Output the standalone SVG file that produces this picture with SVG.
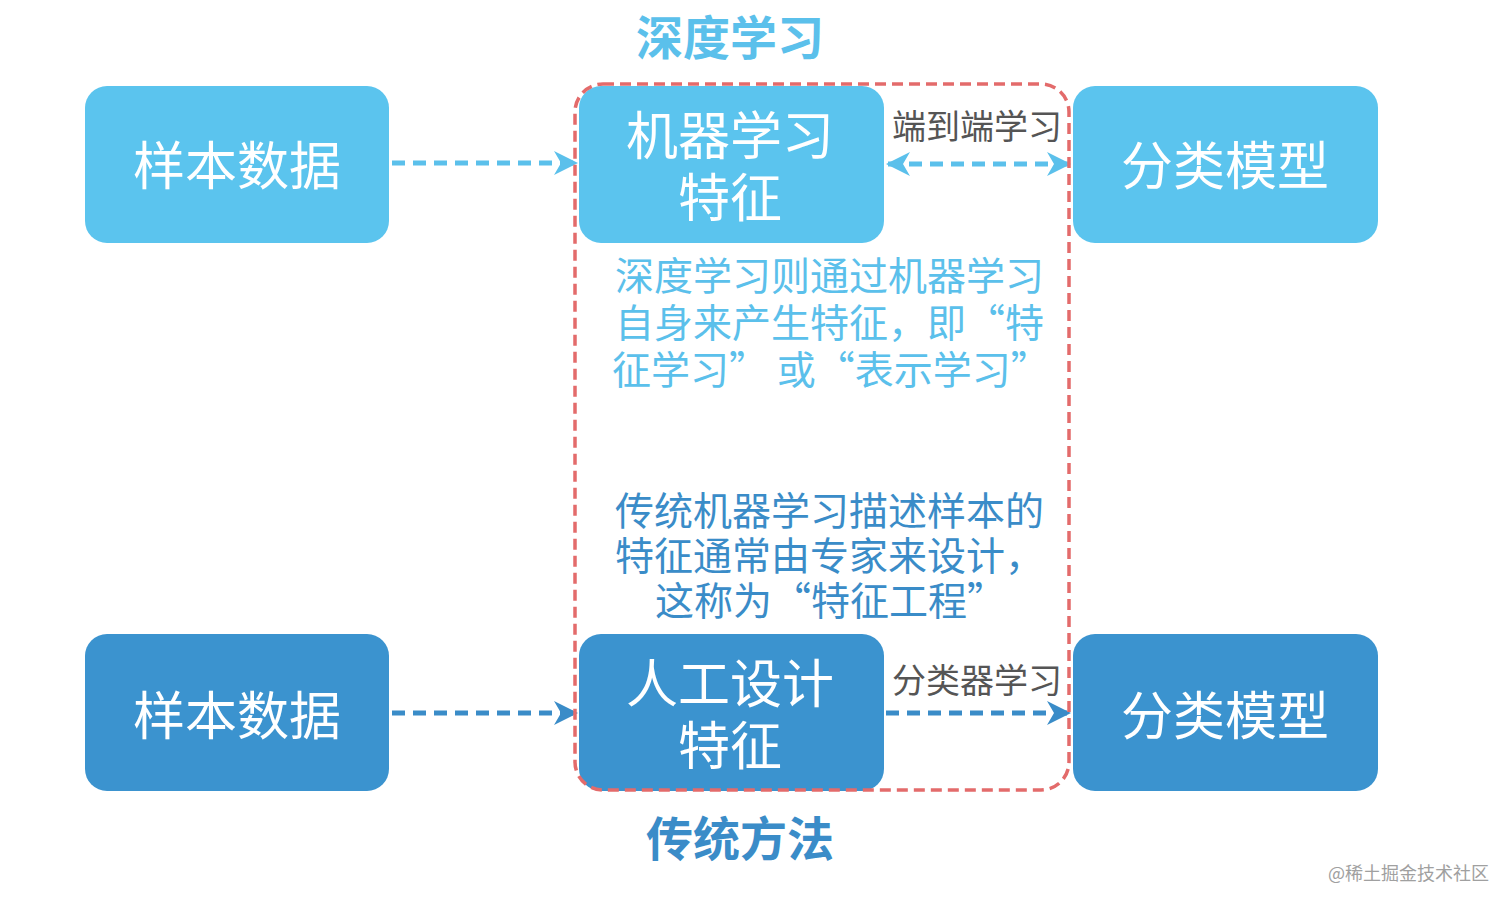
<svg xmlns="http://www.w3.org/2000/svg" width="1512" height="908" viewBox="0 0 1512 908">
<style>
.t{font-family:"Noto Sans CJK SC","Noto Sans",sans-serif;}
.box-l{fill:#5BC4EE;}
.box-d{fill:#3B93CF;}
.wt{fill:#ffffff;font-size:52px;text-anchor:middle;}
.lbl{fill:#555555;font-size:34px;text-anchor:middle;}
.c-l{stroke:#5BC0EB;stroke-width:5;stroke-dasharray:13 8;fill:none;}
.c-d{stroke:#3A8CC8;stroke-width:5;stroke-dasharray:13 8;fill:none;}
</style>
<defs>
<marker id="al" viewBox="0 0 24 24" refX="22" refY="12" markerWidth="24" markerHeight="24" markerUnits="userSpaceOnUse" orient="auto-start-reverse">
<path d="M0,0 L24,12 L0,24 L7,12 Z" fill="#5BC0EB"/>
</marker>
<marker id="ad" viewBox="0 0 24 24" refX="22" refY="12" markerWidth="24" markerHeight="24" markerUnits="userSpaceOnUse" orient="auto-start-reverse">
<path d="M0,0 L24,12 L0,24 L7,12 Z" fill="#3A8CC8"/>
</marker>
</defs>
<rect width="1512" height="908" fill="#ffffff"/>

<text class="t" x="730" y="55" font-size="47" font-weight="bold" fill="#5BC0EB" text-anchor="middle">深度学习</text>
<text class="t" x="740" y="856" font-size="47" font-weight="bold" fill="#3A8CC8" text-anchor="middle">传统方法</text>

<g id="n-sample-top">
<rect class="box-l" x="85" y="86" width="304" height="157" rx="22"/>
<text class="t wt" x="237" y="185">样本数据</text>
</g>
<g id="n-ml-feature">
<rect class="box-l" x="579" y="86" width="305" height="157" rx="22"/>
<text class="t wt" x="730" y="155">机器学习</text>
<text class="t wt" x="730" y="217">特征</text>
</g>
<g id="n-class-top">
<rect class="box-l" x="1073" y="86" width="305" height="157" rx="22"/>
<text class="t wt" x="1225" y="185">分类模型</text>
</g>
<g id="n-sample-bot">
<rect class="box-d" x="85" y="634" width="304" height="157" rx="22"/>
<text class="t wt" x="237" y="735">样本数据</text>
</g>
<g id="n-manual-feature">
<rect class="box-d" x="579" y="634" width="305" height="157" rx="22"/>
<text class="t wt" x="730" y="703">人工设计</text>
<text class="t wt" x="730" y="765">特征</text>
</g>
<g id="n-class-bot">
<rect class="box-d" x="1073" y="634" width="305" height="157" rx="22"/>
<text class="t wt" x="1225" y="735">分类模型</text>
</g>

<g id="connectors">
<line class="c-l" x1="392" y1="163" x2="576" y2="163" marker-end="url(#al)"/>
<line class="c-l" x1="888" y1="164" x2="1069" y2="164" marker-start="url(#al)" marker-end="url(#al)"/>
<line class="c-d" x1="392" y1="713" x2="576" y2="713" marker-end="url(#ad)"/>
<line class="c-d" x1="886" y1="713" x2="1069" y2="713" marker-end="url(#ad)"/>
<text class="t lbl" x="977" y="139">端到端学习</text>
<text class="t lbl" x="977" y="693">分类器学习</text>
</g>

<g id="deep-note" class="t" font-size="39" fill="#5BC0EB">
<text x="615" y="290">深度学习则通过机器学习</text>
<text x="615" y="337">自身来产生特征，即“特</text>
<text x="612" y="384">征学习” 或“表示学习”</text>
</g>
<g id="trad-note" class="t" font-size="39" fill="#3A8CC8">
<text x="615" y="525">传统机器学习描述样本的</text>
<text x="615" y="570">特征通常由专家来设计，</text>
<text x="655" y="615">这称为“特征工程”</text>
</g>

<rect id="frame" x="575" y="84" width="494" height="706" rx="28" fill="none" stroke="#E36B6B" stroke-width="3.5" stroke-dasharray="11 6"/>

<text class="t" x="1328" y="880" font-size="18" fill="#a0a0a0">@稀土掘金技术社区</text>
</svg>
